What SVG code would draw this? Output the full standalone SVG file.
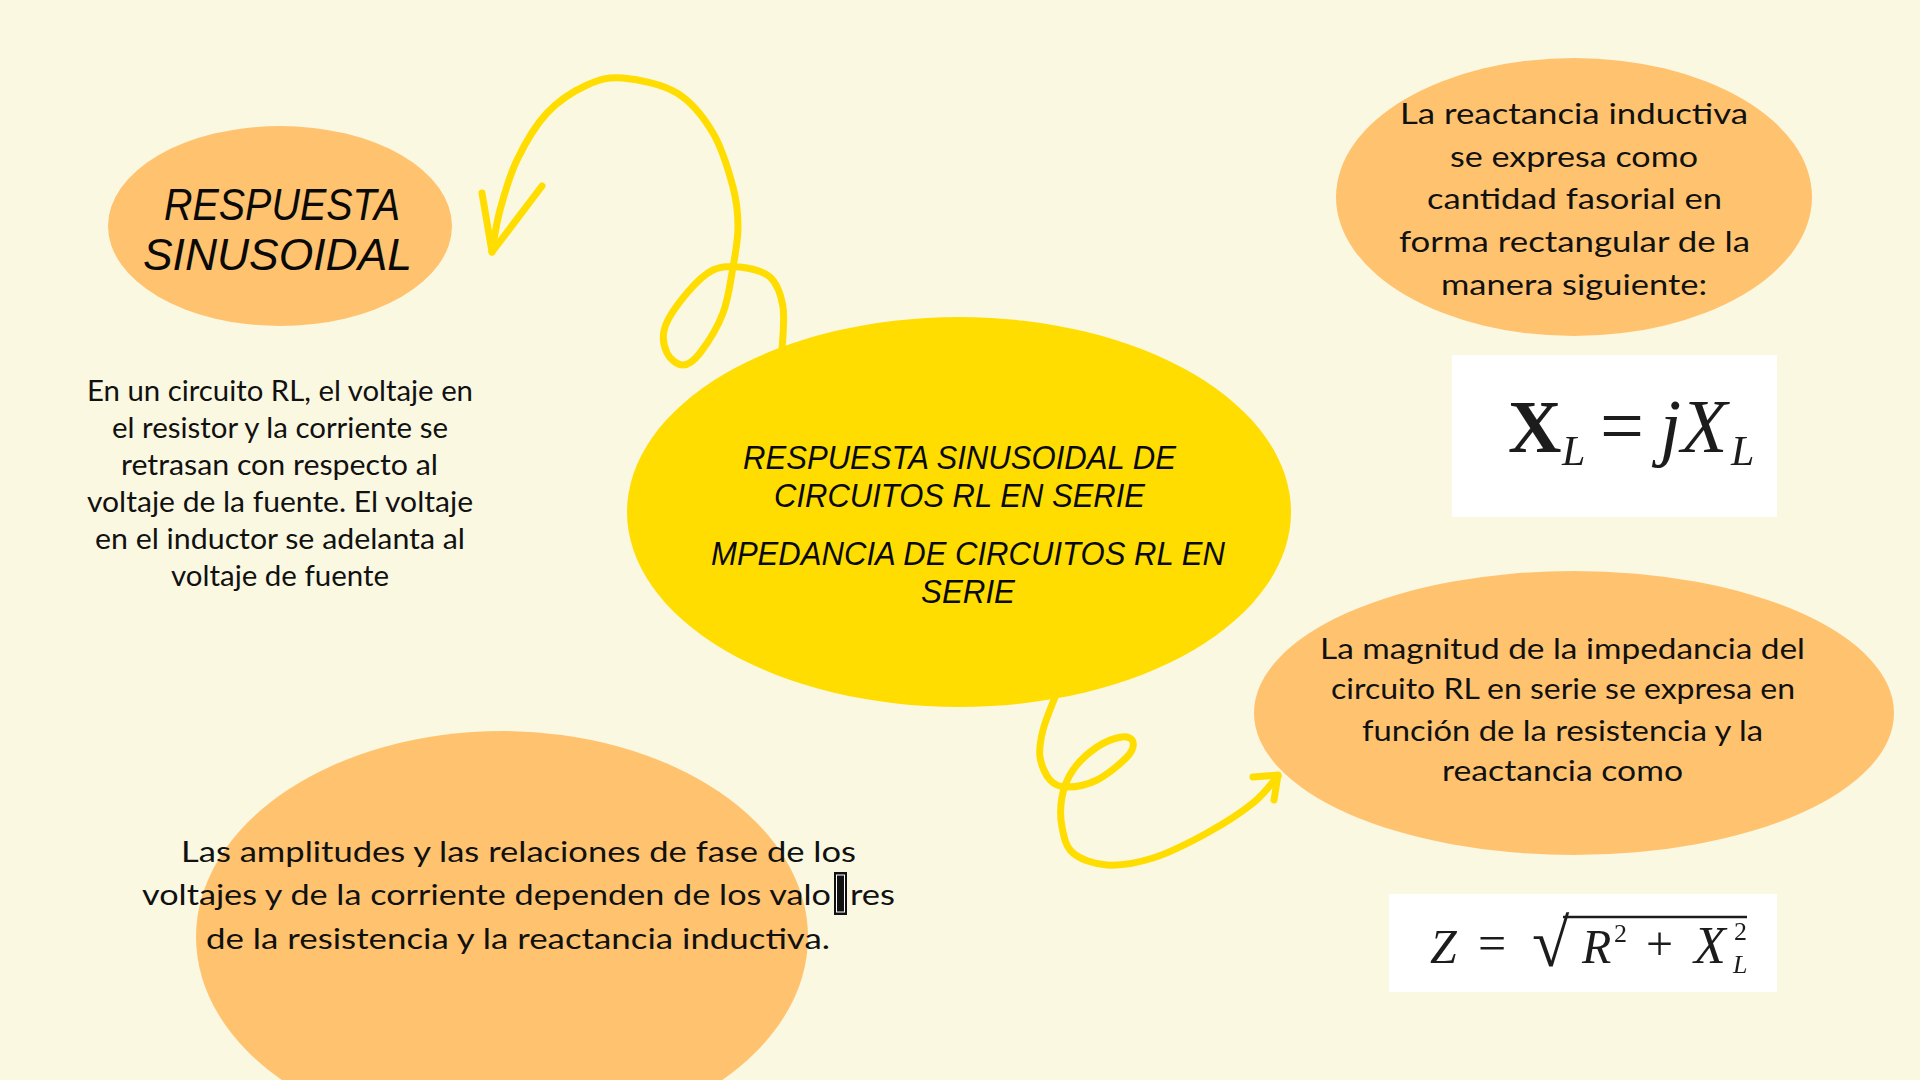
<svg xmlns="http://www.w3.org/2000/svg" width="1920" height="1080" viewBox="0 0 1920 1080">
<defs>
<style>
.bg{fill:#FBF8E2}
.orange{fill:#FFC36F}
.yellow{fill:#FFDD00}
.conn{fill:none;stroke:#FFDD00;stroke-width:7;stroke-linecap:round;stroke-linejoin:round}
.hand{font-family:"Liberation Sans","DejaVu Sans Condensed",sans-serif;font-style:italic;font-weight:400;fill:#0a0a0a}
.body{font-family:Lato,"Liberation Sans",sans-serif;fill:#111;font-size:29px}
.math{font-family:"Liberation Serif","DejaVu Serif",serif;fill:#1e1e1e}
.box{fill:#FFFFFF}
</style>
<filter id="soft" x="-5%" y="-5%" width="110%" height="110%"><feGaussianBlur stdDeviation="0.6"/></filter>
</defs>
<rect class="bg" x="0" y="0" width="1920" height="1080"/>

<g id="connectors">
<path class="conn" d="M782,350 C782.2,342.8 785,319.2 783,307 C781,294.8 777.2,283.7 770,277 C762.8,270.3 749.5,268.2 740,267 C730.5,265.8 721.8,265.7 713,270 C704.2,274.3 695,283.5 687,293 C679,302.5 668.3,317 665,327 C661.7,337 664,346.7 667,353 C670,359.3 677.5,365 683,365 C688.5,365 693.3,361.7 700,353 C706.7,344.3 717.5,327.3 723,313 C728.5,298.7 730.5,281.3 733,267 C735.5,252.7 738,240.3 738,227 C738,213.7 737.2,202.7 733,187 C728.8,171.3 722.3,148.7 713,133 C703.7,117.3 692,102.2 677,93 C662,83.8 638,79.3 623,78 C608,76.7 599.7,79.2 587,85 C574.3,90.8 558.7,100.5 547,113 C535.3,125.5 524.8,143.8 517,160 C509.2,176.2 504.2,194.7 500,210 C495.8,225.3 493.3,245 492,252"/>
<path class="conn" d="M482,193 L492,252 L542,186"/>
<path class="conn" stroke-width="8" d="M1055,697 C1053,702.5 1045.5,720 1043,730 C1040.5,740 1038.8,748.7 1040,757 C1041.2,765.3 1045.5,775 1050,780 C1054.5,785 1059.2,787 1067,787 C1074.8,787 1087,785 1097,780 C1107,775 1121,763.3 1127,757 C1133,750.7 1133.8,745.3 1133,742 C1132.2,738.7 1128,736.2 1122,737 C1116,737.8 1105.2,741.5 1097,747 C1088.8,752.5 1078.8,761.7 1073,770 C1067.2,778.3 1063.8,787.5 1062,797 C1060.2,806.5 1060.2,817.7 1062,827 C1063.8,836.3 1065.5,846.7 1073,853 C1080.5,859.3 1093.7,864.2 1107,865 C1120.3,865.8 1136.3,863.3 1153,858 C1169.7,852.7 1190.3,842.2 1207,833 C1223.7,823.8 1241.2,812.5 1253,803 C1264.8,793.5 1273.8,780.5 1278,776"/>
<path class="conn" stroke-width="8" d="M1253,777 L1278,775 L1274,800"/>
</g>

<g id="node-respuesta-sinusoidal">
<ellipse class="orange" cx="280" cy="226" rx="172" ry="100"/>
<text class="hand" font-size="44" x="164" y="220" textLength="236" lengthAdjust="spacingAndGlyphs">RESPUESTA</text>
<text class="hand" font-size="44" x="143" y="270" textLength="269" lengthAdjust="spacingAndGlyphs">SINUSOIDAL</text>
</g>

<g id="node-texto-circuito-rl">
<text class="body" font-size="27" x="87" y="401" textLength="386" lengthAdjust="spacingAndGlyphs">En un circuito RL, el voltaje en</text>
<text class="body" font-size="27" x="112" y="438" textLength="336" lengthAdjust="spacingAndGlyphs">el resistor y la corriente se</text>
<text class="body" font-size="27" x="121" y="475" textLength="317" lengthAdjust="spacingAndGlyphs">retrasan con respecto al</text>
<text class="body" font-size="27" x="87" y="512" textLength="386" lengthAdjust="spacingAndGlyphs">voltaje de la fuente. El voltaje</text>
<text class="body" font-size="27" x="95" y="549" textLength="370" lengthAdjust="spacingAndGlyphs">en el inductor se adelanta al</text>
<text class="body" font-size="27" x="171" y="586" textLength="218" lengthAdjust="spacingAndGlyphs">voltaje de fuente</text>
</g>

<g id="node-central">
<ellipse class="yellow" cx="959" cy="512" rx="332" ry="195"/>
<text class="hand" font-size="33" x="743" y="469" textLength="433" lengthAdjust="spacingAndGlyphs">RESPUESTA SINUSOIDAL DE</text>
<text class="hand" font-size="33" x="774" y="507" textLength="371" lengthAdjust="spacingAndGlyphs">CIRCUITOS RL EN SERIE</text>
<text class="hand" font-size="33" x="711" y="565" textLength="514" lengthAdjust="spacingAndGlyphs">MPEDANCIA DE CIRCUITOS RL EN</text>
<text class="hand" font-size="33" x="921" y="603" textLength="94" lengthAdjust="spacingAndGlyphs">SERIE</text>
</g>

<g id="node-amplitudes">
<ellipse class="orange" cx="502" cy="937" rx="306" ry="206"/>
<text class="body" x="181" y="862" textLength="675" lengthAdjust="spacingAndGlyphs">Las amplitudes y las relaciones de fase de los</text>
<text class="body" y="905"><tspan x="142" textLength="689" lengthAdjust="spacingAndGlyphs">voltajes y de la corriente dependen de los valo</tspan><tspan x="850" textLength="45" lengthAdjust="spacingAndGlyphs">res</tspan></text>
<rect x="834" y="872" width="13" height="43" fill="#111"/>
<rect x="836.5" y="875" width="8" height="37" fill="none" stroke="#fff" stroke-width="1"/>
<text class="body" x="206" y="949" textLength="624" lengthAdjust="spacingAndGlyphs">de la resistencia y la reactancia inductiva.</text>
</g>

<g id="node-reactancia">
<ellipse class="orange" cx="1574" cy="197" rx="238" ry="139"/>
<text class="body" x="1400" y="124" textLength="348" lengthAdjust="spacingAndGlyphs">La reactancia inductiva</text>
<text class="body" x="1450" y="167" textLength="248" lengthAdjust="spacingAndGlyphs">se expresa como</text>
<text class="body" x="1427" y="209" textLength="295" lengthAdjust="spacingAndGlyphs">cantidad fasorial en</text>
<text class="body" x="1399" y="252" textLength="351" lengthAdjust="spacingAndGlyphs">forma rectangular de la</text>
<text class="body" x="1441" y="295" textLength="266" lengthAdjust="spacingAndGlyphs">manera siguiente:</text>
</g>

<g id="node-formula-xl">
<rect class="box" x="1452" y="355" width="325" height="162"/>
<g class="math" filter="url(#soft)">
<text x="1508" y="452" font-size="74" font-weight="bold">X</text>
<text x="1562" y="465" font-size="42" font-style="italic">L</text>
<text x="1600" y="452" font-size="78">=</text>
<text x="1660" y="452" font-size="76" font-style="italic">jX</text>
<text x="1731" y="465" font-size="42" font-style="italic">L</text>
</g>
</g>

<g id="node-impedancia">
<ellipse class="orange" cx="1574" cy="713" rx="320" ry="142"/>
<text class="body" x="1320" y="659" textLength="485" lengthAdjust="spacingAndGlyphs">La magnitud de la impedancia del</text>
<text class="body" x="1331" y="699" textLength="464" lengthAdjust="spacingAndGlyphs">circuito RL en serie se expresa en</text>
<text class="body" x="1362" y="741" textLength="401" lengthAdjust="spacingAndGlyphs">función de la resistencia y la</text>
<text class="body" x="1442" y="781" textLength="241" lengthAdjust="spacingAndGlyphs">reactancia como</text>
</g>

<g id="node-formula-z">
<rect class="box" x="1389" y="894" width="388" height="98"/>
<g class="math" filter="url(#soft)">
<text x="1430" y="963" font-size="48" font-style="italic">Z</text>
<text x="1478" y="960" font-size="50">=</text>
<text x="1532" y="966" font-size="68">√</text>
<line x1="1563" y1="917" x2="1747" y2="917" stroke="#1e1e1e" stroke-width="2.5"/>
<text x="1582" y="963" font-size="48" font-style="italic">R</text>
<text x="1614" y="942" font-size="26">2</text>
<text x="1646" y="960" font-size="48">+</text>
<text x="1694" y="963" font-size="52" font-style="italic">X</text>
<text x="1734" y="940" font-size="26">2</text>
<text x="1733" y="973" font-size="26" font-style="italic">L</text>
</g>
</g>
</svg>
